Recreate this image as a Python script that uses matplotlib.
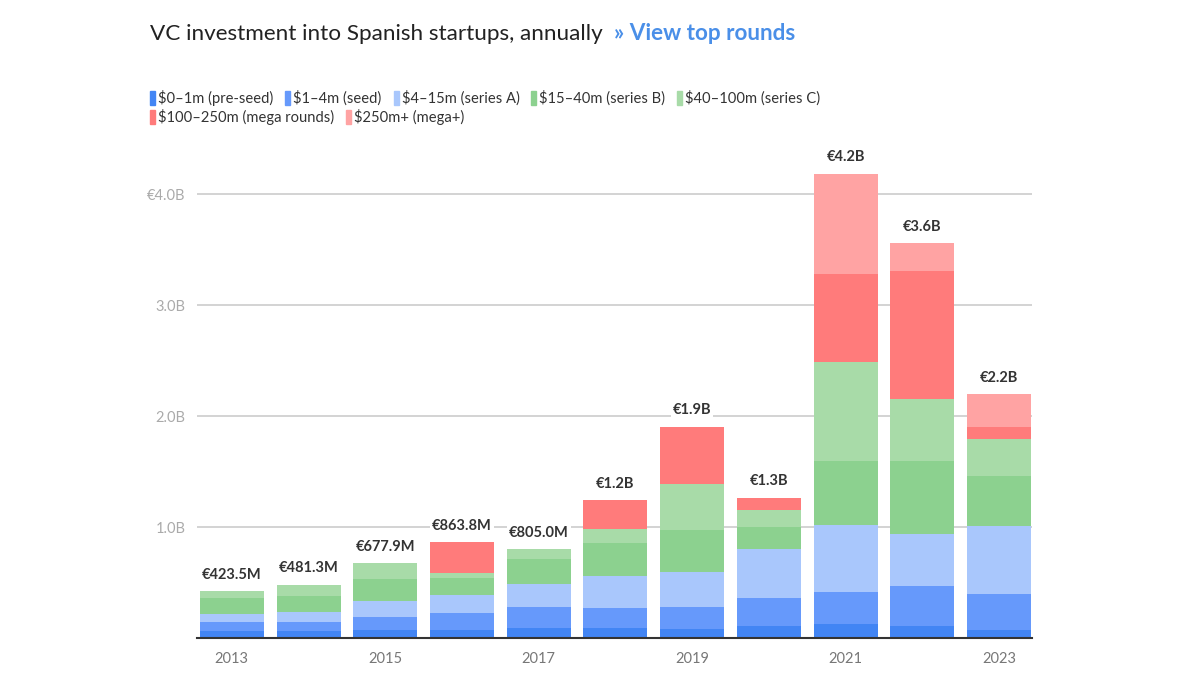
import matplotlib.pyplot as plt
import numpy as np

plt.rcParams['font.family'] = ['Lato', 'DejaVu Sans']

# datos (millones de euros)
years = np.arange(2013, 2024)
pre_seed = [68, 63, 75, 75, 90, 90, 84, 114, 129, 114, 75]
seed = [81, 87, 114, 150, 189, 180, 196, 247, 291, 360, 322]
series_a = [67, 90, 147, 165, 210, 294, 315, 444, 601, 463, 618]
series_b = [144, 141, 198, 150, 222, 292, 381, 196, 577, 663, 448]
series_c = [63, 100, 144, 45, 93, 129, 412, 156, 895, 556, 333]
mega = [0, 0, 0, 279, 0, 261, 519, 111, 787, 1153, 105]
mega_plus = [0, 0, 0, 0, 0, 0, 0, 0, 904, 250, 300]
totales = ["€423.5M", "€481.3M", "€677.9M", "€863.8M", "€805.0M", "€1.2B",
           "€1.9B", "€1.3B", "€4.2B", "€3.6B", "€2.2B"]

series = [pre_seed, seed, series_a, series_b, series_c, mega, mega_plus]
nombres = ["$0–1m (pre-seed)", "$1–4m (seed)", "$4–15m (series A)", "$15–40m (series B)",
           "$40–100m (series C)", "$100–250m (mega rounds)", "$250m+ (mega+)"]
colores = ["#4285f4", "#6699fb", "#a9c7fc", "#8cd18f", "#a8dba8", "#ff7b7b", "#ffa3a3"]

fig = plt.figure(figsize=(12, 6.75), dpi=100)
ax = fig.add_axes([0.164, 0.0544, 0.696, 0.707])

x = np.arange(len(years))
base = np.zeros(len(years))
for vals, col in zip(series, colores):
    vals = np.array(vals, dtype=float)
    ax.bar(x, vals, 0.834, bottom=base, color=col, zorder=2)
    base += vals

for xi, tope, txt in zip(x, base, totales):
    ax.text(xi, tope + 85, txt, ha="center", va="bottom", fontsize=10.5, fontweight="bold",
            color="#333333", zorder=4,
            bbox=dict(facecolor="white", edgecolor="none", pad=1.5))

ax.set_xlim(-0.456, 10.43)
ax.set_ylim(0, 4300)
ax.set_yticks([1000, 2000, 3000, 4000])
ax.set_yticklabels(["1.0B", "2.0B", "3.0B", "€4.0B"], color="#aaaaaa", fontsize=10.5)
ax.grid(axis="y", color="#cccccc", linewidth=1.2, zorder=1)
ax.set_xticks(x[::2])
ax.set_xticklabels([str(a) for a in years[::2]], color="#777777", fontsize=10.5)
ax.tick_params(length=0, pad=10)
ax.tick_params(axis="y", pad=8)
for lado in ["top", "right", "left"]:
    ax.spines[lado].set_visible(False)
ax.spines["bottom"].set_color("#333333")
ax.spines["bottom"].set_linewidth(1.5)
ax.spines["bottom"].set_zorder(3)

# titulo
t = fig.text(150 / 1200, 1 - 34 / 675, "VC investment into Spanish startups, annually",
             fontsize=16.2, color="#222222", va="center")
fig.canvas.draw()
r = fig.canvas.get_renderer()
bb = t.get_window_extent(r)
fig.text((bb.x1 + 11) / 1200, 1 - 34 / 675, "» View top rounds", fontsize=16.2,
         fontweight="bold", color="#4a8fe8", va="center")

# leyenda hecha a mano
filas = [[0, 1, 2, 3, 4], [5, 6]]
for fila, yfila in zip(filas, [98, 117]):
    xpos = 150
    for i in fila:
        fig.patches.append(plt.Rectangle((xpos / 1200, 1 - (yfila + 7) / 675), 5 / 1200, 14 / 675,
                                         transform=fig.transFigure, color=colores[i]))
        tx = fig.text((xpos + 8) / 1200, 1 - yfila / 675, nombres[i], fontsize=10.6,
                      color="#333333", va="center")
        bb = tx.get_window_extent(r)
        xpos = bb.x1 + 12

fig.savefig("out.png", dpi=100, facecolor="white")
